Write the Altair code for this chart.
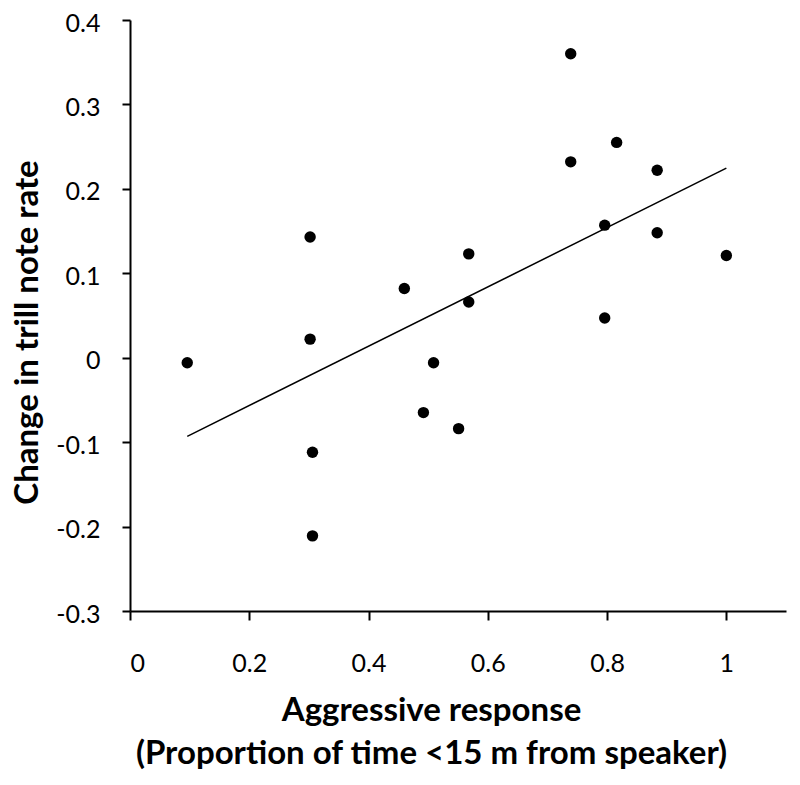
import altair as alt
import pandas as pd

aggressive = [0.096, 0.302, 0.302, 0.306, 0.306, 0.460, 0.492, 0.509, 0.551,
              0.568, 0.568, 0.739, 0.739, 0.796, 0.796, 0.816, 0.884, 0.884, 1.0]
trill_change = [-0.006, 0.143, 0.022, -0.112, -0.211, 0.082, -0.065, -0.006, -0.084,
                0.123, 0.066, 0.360, 0.232, 0.157, 0.047, 0.255, 0.222, 0.148, 0.121]
x_ticks = [0, 0.2, 0.4, 0.6, 0.8, 1.0]
y_ticks = [-0.3, -0.2, -0.1, 0, 0.1, 0.2, 0.3, 0.4]

df = pd.DataFrame({"x": aggressive, "y": trill_change})
FONT = "Lato"

xenc = alt.X("x:Q", scale=alt.Scale(domain=[0, 1.1], nice=False, zero=False),
             axis=alt.Axis(values=x_ticks, labelExpr="format(datum.value, '~g')",
                           labelBaseline="alphabetic", labelPadding=51, tickSize=9,
                           title=["Aggressive response", "(Proportion of time <15 m from speaker)"],
                           titleX=301, titleY=109, titleBaseline="alphabetic", titleLineHeight=43,
                           titleAlign="center", titleAnchor="middle"))
yenc = alt.Y("y:Q", scale=alt.Scale(domain=[-0.3, 0.4], nice=False, zero=False),
             axis=alt.Axis(values=y_ticks,
                           labelExpr="datum.value < 0 ? '-' + format(-datum.value, '.1~f') : format(datum.value, '.1~f')",
                           labelPadding=22, tickSize=8, labelOffset=3,
                           title="Change in trill note rate",
                           titleX=-93, titleY=312, titleBaseline="alphabetic", titleAngle=-90,
                           titleAlign="center", titleAnchor="middle"))

points = alt.Chart(df).mark_circle(size=130, color="black", opacity=1).encode(x=xenc, y=yenc)
line = alt.Chart(df).mark_line(color="black", strokeWidth=1.5).transform_regression(
    "x", "y", extent=[min(aggressive), max(aggressive)]).encode(x="x:Q", y="y:Q")

chart = alt.layer(line, points).properties(
    width=656, height=591,
    autosize=alt.AutoSizeParams(type="none"),
    padding={"left": 122, "top": 12, "right": 6, "bottom": 166},
).configure_view(stroke=None).configure_axis(
    grid=False, domainColor="black", domainWidth=2, tickColor="black", tickWidth=2,
    labelFont=FONT, labelFontSize=25, labelColor="black",
    titleFont=FONT, titleFontSize=33, titleFontWeight="bold", titleColor="black",
)

chart.save("out.html", embed_options={"renderer": "svg", "actions": False})
